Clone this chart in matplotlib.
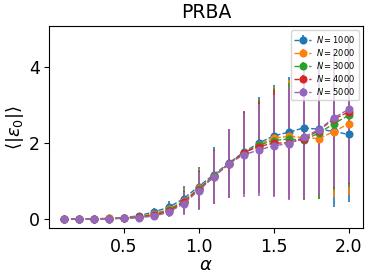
import numpy as np
import matplotlib
matplotlib.use("Agg")
import matplotlib.pyplot as plt


alpha = [0.1, 0.2, 0.3, 0.4, 0.5, 0.6, 0.7, 0.8, 0.9, 1.0,
         1.1, 1.2, 1.3, 1.4, 1.5, 1.6, 1.7, 1.8, 1.9, 2.0]
sizes = [1000, 2000, 3000, 4000, 5000]

mean_1000 = [0.0, 0.0, 0.0, 0.01, 0.03, 0.08, 0.18, 0.30, 0.53, 0.85,
             1.16, 1.46, 1.75, 1.99, 2.18, 2.28, 2.39, 2.36, 2.30, 2.22]
mean_2000 = [0.0, 0.0, 0.0, 0.01, 0.02, 0.06, 0.13, 0.25, 0.47, 0.80,
             1.13, 1.45, 1.74, 1.95, 2.12, 2.17, 2.14, 2.11, 2.29, 2.50]
mean_3000 = [0.0, 0.0, 0.0, 0.005, 0.02, 0.05, 0.11, 0.23, 0.45, 0.78,
             1.12, 1.45, 1.73, 1.94, 2.06, 2.10, 2.07, 2.25, 2.50, 2.72]
mean_4000 = [0.0, 0.0, 0.0, 0.005, 0.015, 0.04, 0.09, 0.20, 0.43, 0.77,
             1.10, 1.44, 1.74, 1.90, 1.99, 2.00, 2.10, 2.32, 2.62, 2.81]
mean_5000 = [0.0, 0.0, 0.0, 0.005, 0.01, 0.03, 0.07, 0.17, 0.40, 0.74,
             1.10, 1.45, 1.68, 1.81, 1.92, 1.98, 2.15, 2.34, 2.65, 2.88]

std_1000 = [0.0, 0.0, 0.0, 0.01, 0.03, 0.06, 0.10, 0.17, 0.33, 0.52,
            0.73, 0.91, 1.04, 1.21, 1.35, 1.46, 1.60, 1.80, 2.00, 1.77]
std_2000 = [0.0, 0.0, 0.0, 0.01, 0.02, 0.05, 0.09, 0.15, 0.32, 0.51,
            0.72, 0.91, 1.06, 1.21, 1.36, 1.47, 1.60, 1.59, 1.71, 1.87]
std_3000 = [0.0, 0.0, 0.0, 0.01, 0.02, 0.04, 0.08, 0.14, 0.31, 0.51,
            0.71, 0.91, 1.08, 1.22, 1.38, 1.47, 1.58, 1.72, 1.74, 1.87]
std_4000 = [0.0, 0.0, 0.0, 0.01, 0.02, 0.04, 0.07, 0.13, 0.30, 0.50,
            0.70, 0.90, 1.09, 1.21, 1.40, 1.48, 1.59, 1.70, 1.82, 1.90]
std_5000 = [0.0, 0.0, 0.0, 0.01, 0.01, 0.03, 0.06, 0.12, 0.30, 0.50,
            0.69, 0.91, 1.10, 1.21, 1.34, 1.48, 1.61, 1.71, 1.80, 1.95]

means = [mean_1000, mean_2000, mean_3000, mean_4000, mean_5000]
stds = [std_1000, std_2000, std_3000, std_4000, std_5000]


fig = plt.figure(figsize=(3.74, 2.8), dpi=100)
ax = fig.add_axes([0.132, 0.185, 0.838, 0.722])

for n, m, s in zip(sizes, means, stds):
    ax.errorbar(alpha, m, yerr=s, fmt="o--", markersize=4.8, linewidth=1,
                elinewidth=1.2, label=f"$N = {n}$")

ax.set_title("PRBA", fontsize=13.5)
ax.set_xlabel(r"$\alpha$", fontsize=13, labelpad=0)
ax.set_ylabel(r"$\langle|\varepsilon_0|\rangle$", fontsize=13, labelpad=2)
ax.tick_params(labelsize=12.5)
ax.set_xticks([0.5, 1.0, 1.5, 2.0])
ax.set_yticks([0, 2, 4])
ax.legend(loc="upper right", fontsize=6, labelspacing=0.25,
          handletextpad=0.6, borderpad=0.4)

fig.savefig("out.png", dpi=100)
